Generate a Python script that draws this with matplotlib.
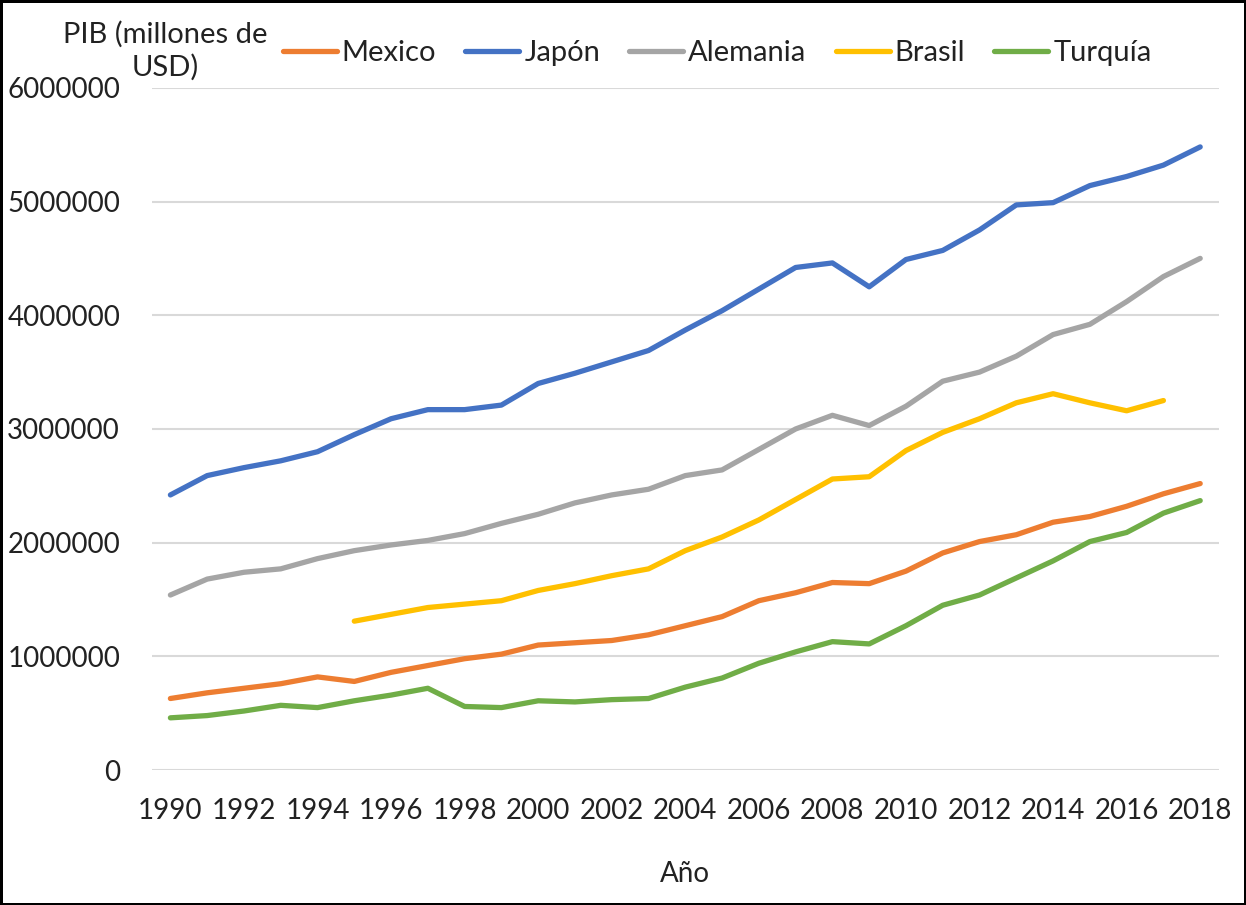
import numpy as np
import matplotlib.pyplot as plt

anios = list(range(1990, 2019))

# PIB en millones de USD
mexico = [630000, 680000, 720000, 760000, 820000, 780000, 860000, 920000, 980000, 1020000,
          1100000, 1120000, 1140000, 1190000, 1270000, 1350000, 1490000, 1560000, 1650000, 1640000,
          1750000, 1910000, 2010000, 2070000, 2180000, 2230000, 2320000, 2430000, 2520000]
japon = [2420000, 2590000, 2660000, 2720000, 2800000, 2950000, 3090000, 3170000, 3170000, 3210000,
         3400000, 3490000, 3590000, 3690000, 3870000, 4040000, 4230000, 4420000, 4460000, 4250000,
         4490000, 4570000, 4750000, 4970000, 4990000, 5140000, 5220000, 5320000, 5480000]
alemania = [1540000, 1680000, 1740000, 1770000, 1860000, 1930000, 1980000, 2020000, 2080000, 2170000,
            2250000, 2350000, 2420000, 2470000, 2590000, 2640000, 2820000, 3000000, 3120000, 3030000,
            3200000, 3420000, 3500000, 3640000, 3830000, 3920000, 4120000, 4340000, 4500000]
brasil = [np.nan] * 5 + [1310000, 1370000, 1430000, 1460000, 1490000,
                         1580000, 1640000, 1710000, 1770000, 1930000, 2050000, 2200000, 2380000, 2560000, 2580000,
                         2810000, 2970000, 3090000, 3230000, 3310000, 3230000, 3160000, 3250000, np.nan]
turquia = [460000, 480000, 520000, 570000, 550000, 610000, 660000, 720000, 560000, 550000,
           610000, 600000, 620000, 630000, 730000, 810000, 940000, 1040000, 1130000, 1110000,
           1270000, 1450000, 1540000, 1690000, 1840000, 2010000, 2090000, 2260000, 2370000]

series = [('Mexico', mexico, '#ED7D31'),
          ('Japón', japon, '#4472C4'),
          ('Alemania', alemania, '#A5A5A5'),
          ('Brasil', brasil, '#FFC000'),
          ('Turquía', turquia, '#70AD47')]

plt.rcParams['font.family'] = ['Lato', 'DejaVu Sans']
texto = '#222222'

fig = plt.figure(figsize=(12.46, 9.05), dpi=100, linewidth=2.5, edgecolor='black')
ax = fig.add_axes([0.122, 0.149, 0.856, 0.754])

x = np.arange(len(anios))
for nombre, valores, color in series:
    ax.plot(x, valores, color=color, lw=3.8, solid_capstyle='round',
            solid_joinstyle='round', label=nombre)

ax.set_xlim(-0.5, len(anios) - 0.5)
ax.set_ylim(0, 6000000)
ax.set_yticks(np.arange(0, 6000001, 1000000))
ax.set_yticklabels([str(v) for v in range(0, 6000001, 1000000)])
ax.set_xticks(x[::2])
ax.set_xticklabels([str(a) for a in anios[::2]])
ax.tick_params(axis='both', length=0, labelsize=20, colors=texto)
ax.tick_params(axis='y', pad=23)
ax.tick_params(axis='x', pad=20)
ax.grid(axis='y', color='#D9D9D9', lw=1.5)
ax.set_axisbelow(True)
for s in ax.spines.values():
    s.set_visible(False)

ax.set_xlabel('Año', fontsize=20, color=texto, labelpad=27)
fig.text(0.133, 0.944, 'PIB (millones de\nUSD)', fontsize=21, color=texto,
         ha='center', va='center', linespacing=1.25)

fig.legend(loc='center left', bbox_to_anchor=(0.227, 0.941), ncol=5, frameon=False,
           fontsize=21, handlelength=1.85, handletextpad=0.17, columnspacing=1.0,
           borderpad=0, borderaxespad=0, labelcolor=texto)

fig.savefig('out.png', dpi=100)
